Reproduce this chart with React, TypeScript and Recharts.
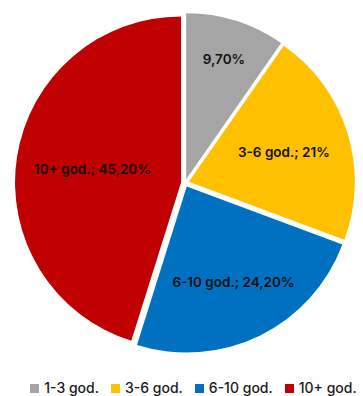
import { Cell, Legend, Pie, PieChart } from "recharts";

const CATEGORIES = ["1-3 god.", "3-6 god.", "6-10 god.", "10+ god."];
const SHARES = [9.7, 21, 24.2, 45.2];
const LABELS = ["9,70%", "3-6 god.; 21%", "6-10 god.; 24,20%", "10+ god.; 45,20%"];
const COLORS = ["#A5A5A5", "#FFC000", "#0070C0", "#C00000"];

// how far each slice sits from the centre (fraction of radius) for its label
const LABEL_POS = [0.76, 0.6, 0.64, 0.54];

const W = 363;
const H = 396;
const CX = 185;
const CY = 183;
const R = 166;
const EXPLODE = 4;
const FONT = "Inter, 'Noto Sans', sans-serif";
const RAD = Math.PI / 180;

const data = CATEGORIES.map((name, i) => ({ name, value: SHARES[i] }));
const total = SHARES.reduce((a, b) => a + b, 0);

// mid angle of every slice, clockwise from 12 o'clock
const mids = SHARES.map((v, i) => {
  const before = SHARES.slice(0, i).reduce((a, b) => a + b, 0);
  return ((before + v / 2) / total) * 360;
});

function LegendBox() {
  return (
    <div
      style={{
        display: "flex",
        justifyContent: "center",
        gap: 12,
        fontFamily: FONT,
        fontSize: 14,
        fontWeight: 550,
        color: "#1a1a1a",
        paddingLeft: 24,
        lineHeight: "16px",
      }}
    >
      {CATEGORIES.map((c, i) => (
        <span key={c} style={{ display: "flex", alignItems: "center" }}>
          <span
            style={{
              width: 9,
              height: 9,
              background: COLORS[i],
              display: "inline-block",
              marginRight: 5,
            }}
          />
          {c}
        </span>
      ))}
    </div>
  );
}

export default function App() {
  return (
    <div style={{ position: "absolute", left: 0, top: 0, background: "#fff" }}>
      <PieChart width={W} height={H} margin={{ top: 0, right: 0, bottom: 0, left: 0 }}>
        {CATEGORIES.map((_, k) => {
          const dx = Math.sin(mids[k] * RAD) * EXPLODE;
          const dy = -Math.cos(mids[k] * RAD) * EXPLODE;
          return (
            <Pie
              key={k}
              data={data}
              dataKey="value"
              nameKey="name"
              cx={CX + dx}
              cy={CY + dy}
              outerRadius={R}
              startAngle={90}
              endAngle={-270}
              stroke="none"
              labelLine={false}
              legendType="none"
              isAnimationActive={false}
              label={(p: any) => {
                if (p.index !== k) return null;
                const rr = R * LABEL_POS[k];
                const x = p.cx + rr * Math.cos(-p.midAngle * RAD);
                const y = p.cy + rr * Math.sin(-p.midAngle * RAD);
                return (
                  <text
                    x={x}
                    y={y}
                    textAnchor="middle"
                    dominantBaseline="central"
                    fill="#111"
                    fontFamily={FONT}
                    fontSize={13.5}
                    fontWeight={600}
                  >
                    {LABELS[k]}
                  </text>
                );
              }}
            >
              {data.map((d, i) => (
                <Cell key={d.name} fill={i === k ? COLORS[i] : "transparent"} />
              ))}
            </Pie>
          );
        })}
        <Legend
          content={() => <LegendBox />}
          wrapperStyle={{ top: 380, left: 0, width: W }}
        />
      </PieChart>
    </div>
  );
}
